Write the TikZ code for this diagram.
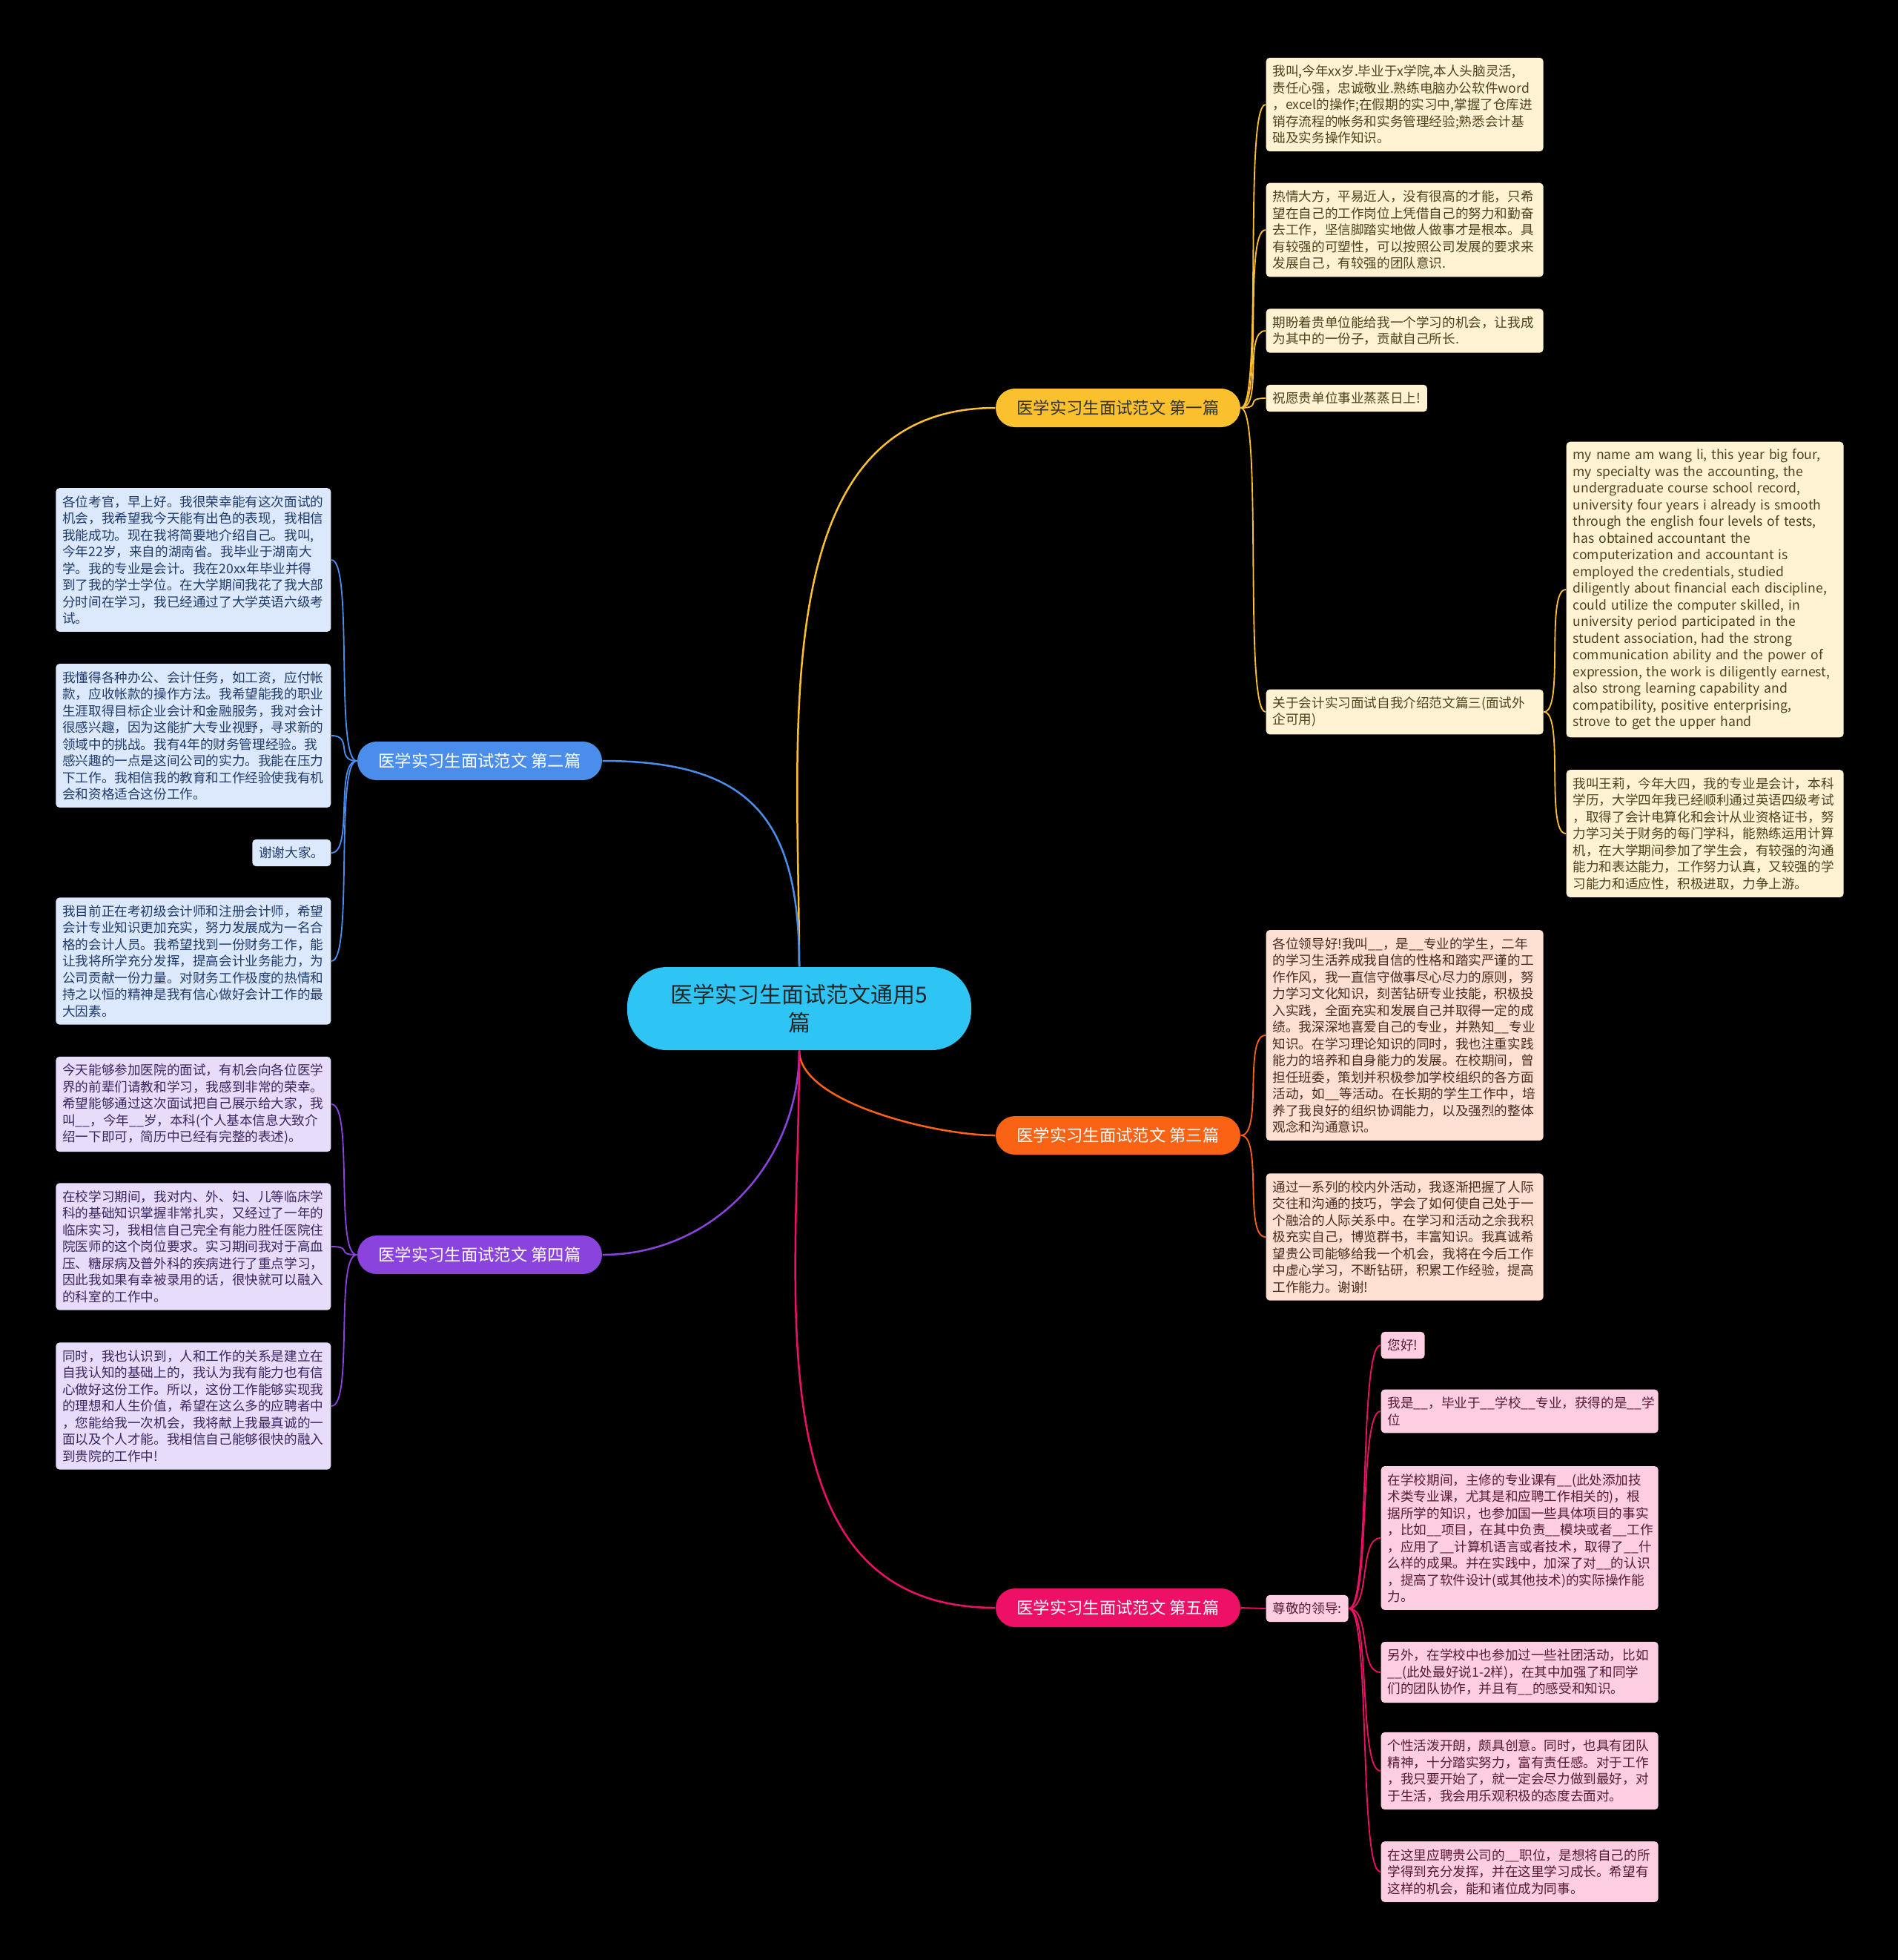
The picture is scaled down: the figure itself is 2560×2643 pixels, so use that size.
\documentclass[tikz,border=0pt]{standalone}
\usepackage{fontspec}
\setmainfont{Noto Sans CJK SC}
\usetikzlibrary{positioning}

\definecolor{rootcyan}{HTML}{2EC4F4}
\definecolor{goldbr}{HTML}{FBC02D}
\definecolor{bluebr}{HTML}{4A8DEB}
\definecolor{orangebr}{HTML}{FA6214}
\definecolor{purplebr}{HTML}{8B43DE}
\definecolor{pinkbr}{HTML}{EE1066}
\definecolor{goldleaf}{HTML}{FFF3D3}
\definecolor{blueleaf}{HTML}{DCE8FB}
\definecolor{orangeleaf}{HTML}{FDE0D1}
\definecolor{purpleleaf}{HTML}{E7DCFA}
\definecolor{pinkleaf}{HTML}{FDCDE1}
\definecolor{goldtxt}{HTML}{4E421C}
\definecolor{bluetxt}{HTML}{1F3B6C}
\definecolor{orangetxt}{HTML}{4A2C1E}
\definecolor{purpletxt}{HTML}{3C2560}
\definecolor{pinktxt}{HTML}{561A36}

\newcommand{\leaffont}{\fontsize{5.28}{6.75}\selectfont}
\newcommand{\branchfont}{\fontsize{6.7}{8}\selectfont}
\newcommand{\rootfont}{\fontsize{9}{11.6}\selectfont}

\tikzset{
  leaf/.style={rounded corners=1.5pt, inner xsep=2.7pt, inner ysep=3pt, font=\leaffont, align=left},
  wide/.style={text width=106.8pt},
  widel/.style={text width=105.9pt},
  branch/.style={rounded corners=7.8pt, minimum width=99pt, minimum height=15.6pt, inner sep=0pt, font=\branchfont},
  link/.style={line width=0.75pt},
  twig/.style={line width=0.55pt},
}

\begin{document}
\begin{tikzpicture}[x=0.3pt,y=0.3pt,yscale=-1]

\fill [black] (0,0) rectangle (2560,2643);
\useasboundingbox (0,0) rectangle (2560,2643);

% root and branches
\draw (1078,1360) node (root) [fill=rootcyan, rounded corners=16pt, minimum width=139.2pt, minimum height=33.6pt, inner sep=0pt, align=center, font=\rootfont, text=black!85] {医学实习生面试范文通用5\\篇};

\draw (1508,550) node (b1) [branch, fill=goldbr, text=black!80] {医学实习生面试范文 第一篇};
\draw (647,1026) node (b2) [branch, fill=bluebr, text=white] {医学实习生面试范文 第二篇};
\draw (1508,1531) node (b3) [branch, fill=orangebr, text=white] {医学实习生面试范文 第三篇};
\draw (647,1692) node (b4) [branch, fill=purplebr, text=white] {医学实习生面试范文 第四篇};
\draw (1508,2168) node (b5) [branch, fill=pinkbr, text=white] {医学实习生面试范文 第五篇};

\draw [link, goldbr] (root.north) .. controls +(0,-313) and +(-313,0) .. (b1.west);
\draw [link, bluebr] (root.north) .. controls +(0,-200) and +(200,0) .. (b2.east);
\draw [link, orangebr] (root.south) .. controls +(0,70) and +(-80,0) .. (b3.west);
\draw [link, purplebr] (root.south) .. controls +(0,150) and +(150,0) .. (b4.east);
\draw [link, pinkbr] (root.south) .. controls +(0,330) and +(-330,0) .. (b5.west);

% Text Node -- first
\draw (1707,141) node (l1a) [leaf, wide, anchor=west, fill=goldleaf, text=goldtxt] {我叫,今年xx岁.毕业于x学院,本人头脑灵活,\\责任心强，忠诚敬业.熟练电脑办公软件word\\，excel的操作;在假期的实习中,掌握了仓库进\\销存流程的帐务和实务管理经验;熟悉会计基\\础及实务操作知识。};
\draw (1707,310) node (l1b) [leaf, wide, anchor=west, fill=goldleaf, text=goldtxt] {热情大方，平易近人，没有很高的才能，只希\\望在自己的工作岗位上凭借自己的努力和勤奋\\去工作，坚信脚踏实地做人做事才是根本。具\\有较强的可塑性，可以按照公司发展的要求来\\发展自己，有较强的团队意识.};
\draw (1707,446) node (l1c) [leaf, wide, anchor=west, fill=goldleaf, text=goldtxt] {期盼着贵单位能给我一个学习的机会，让我成\\为其中的一份子，贡献自己所长.};
\draw (1707,537) node (l1d) [leaf, anchor=west, fill=goldleaf, text=goldtxt] {祝愿贵单位事业蒸蒸日上!};
\draw (1707,960) node (l1e) [leaf, wide, anchor=west, fill=goldleaf, text=goldtxt] {关于会计实习面试自我介绍范文篇三(面试外\\企可用)};
\draw (2112,795) node (l1f) [leaf, wide, anchor=west, fill=goldleaf, text=goldtxt] {my name am wang li, this year big four,\\my specialty was the accounting, the\\undergraduate course school record,\\university four years i already is smooth\\through the english four levels of tests,\\has obtained accountant the\\computerization and accountant is\\employed the credentials, studied\\diligently about financial each discipline,\\could utilize the computer skilled, in\\university period participated in the\\student association, had the strong\\communication ability and the power of\\expression, the work is diligently earnest,\\also strong learning capability and\\compatibility, positive enterprising,\\strove to get the upper hand};
\draw (2112,1124) node (l1g) [leaf, wide, anchor=west, fill=goldleaf, text=goldtxt] {我叫王莉，今年大四，我的专业是会计，本科\\学历，大学四年我已经顺利通过英语四级考试\\，取得了会计电算化和会计从业资格证书，努\\力学习关于财务的每门学科，能熟练运用计算\\机，在大学期间参加了学生会，有较强的沟通\\能力和表达能力，工作努力认真，又较强的学\\习能力和适应性，积极进取，力争上游。};

\foreach \n in {l1a,l1b,l1c,l1d,l1e}
  \draw [twig, goldbr] (b1.east) .. controls +(30,0) and +(-30,0) .. (\n.west);
\foreach \n in {l1f,l1g}
  \draw [twig, goldbr] (l1e.east) .. controls +(28,0) and +(-28,0) .. (\n.west);

% Text Node -- second
\draw (447,755) node (l2a) [leaf, widel, anchor=east, fill=blueleaf, text=bluetxt] {各位考官，早上好。我很荣幸能有这次面试的\\机会，我希望我今天能有出色的表现，我相信\\我能成功。现在我将简要地介绍自己。我叫,\\今年22岁，来自的湖南省。我毕业于湖南大\\学。我的专业是会计。我在20xx年毕业并得\\到了我的学士学位。在大学期间我花了我大部\\分时间在学习，我已经通过了大学英语六级考\\试。};
\draw (447,992) node (l2b) [leaf, widel, anchor=east, fill=blueleaf, text=bluetxt] {我懂得各种办公、会计任务，如工资，应付帐\\款，应收帐款的操作方法。我希望能我的职业\\生涯取得目标企业会计和金融服务，我对会计\\很感兴趣，因为这能扩大专业视野，寻求新的\\领域中的挑战。我有4年的财务管理经验。我\\感兴趣的一点是这间公司的实力。我能在压力\\下工作。我相信我的教育和工作经验使我有机\\会和资格适合这份工作。};
\draw (447,1150) node (l2c) [leaf, anchor=east, fill=blueleaf, text=bluetxt] {谢谢大家。};
\draw (447,1296) node (l2d) [leaf, widel, anchor=east, fill=blueleaf, text=bluetxt] {我目前正在考初级会计师和注册会计师，希望\\会计专业知识更加充实，努力发展成为一名合\\格的会计人员。我希望找到一份财务工作，能\\让我将所学充分发挥，提高会计业务能力，为\\公司贡献一份力量。对财务工作极度的热情和\\持之以恒的精神是我有信心做好会计工作的最\\大因素。};

\foreach \n in {l2a,l2b,l2c,l2d}
  \draw [twig, bluebr] (b2.west) .. controls +(-30,0) and +(30,0) .. (\n.east);

% Text Node -- third
\draw (1707,1396) node (l3a) [leaf, wide, anchor=west, fill=orangeleaf, text=orangetxt] {各位领导好!我叫\_\_，是\_\_专业的学生，二年\\的学习生活养成我自信的性格和踏实严谨的工\\作作风，我一直信守做事尽心尽力的原则，努\\力学习文化知识，刻苦钻研专业技能，积极投\\入实践，全面充实和发展自己并取得一定的成\\绩。我深深地喜爱自己的专业，并熟知\_\_专业\\知识。在学习理论知识的同时，我也注重实践\\能力的培养和自身能力的发展。在校期间，曾\\担任班委，策划并积极参加学校组织的各方面\\活动，如\_\_等活动。在长期的学生工作中，培\\养了我良好的组织协调能力，以及强烈的整体\\观念和沟通意识。};
\draw (1707,1668) node (l3b) [leaf, wide, anchor=west, fill=orangeleaf, text=orangetxt] {通过一系列的校内外活动，我逐渐把握了人际\\交往和沟通的技巧，学会了如何使自己处于一\\个融洽的人际关系中。在学习和活动之余我积\\极充实自己，博览群书，丰富知识。我真诚希\\望贵公司能够给我一个机会，我将在今后工作\\中虚心学习，不断钻研，积累工作经验，提高\\工作能力。谢谢!};

\foreach \n in {l3a,l3b}
  \draw [twig, orangebr] (b3.east) .. controls +(30,0) and +(-30,0) .. (\n.west);

% Text Node -- fourth
\draw (447,1489) node (l4a) [leaf, widel, anchor=east, fill=purpleleaf, text=purpletxt] {今天能够参加医院的面试，有机会向各位医学\\界的前辈们请教和学习，我感到非常的荣幸。\\希望能够通过这次面试把自己展示给大家，我\\叫\_\_，今年\_\_岁，本科(个人基本信息大致介\\绍一下即可，简历中已经有完整的表述)。};
\draw (447,1681) node (l4b) [leaf, widel, anchor=east, fill=purpleleaf, text=purpletxt] {在校学习期间，我对内、外、妇、儿等临床学\\科的基础知识掌握非常扎实，又经过了一年的\\临床实习，我相信自己完全有能力胜任医院住\\院医师的这个岗位要求。实习期间我对于高血\\压、糖尿病及普外科的疾病进行了重点学习，\\因此我如果有幸被录用的话，很快就可以融入\\的科室的工作中。};
\draw (447,1896) node (l4c) [leaf, widel, anchor=east, fill=purpleleaf, text=purpletxt] {同时，我也认识到，人和工作的关系是建立在\\自我认知的基础上的，我认为我有能力也有信\\心做好这份工作。所以，这份工作能够实现我\\的理想和人生价值，希望在这么多的应聘者中\\，您能给我一次机会，我将献上我最真诚的一\\面以及个人才能。我相信自己能够很快的融入\\到贵院的工作中!};

\foreach \n in {l4a,l4b,l4c}
  \draw [twig, purplebr] (b4.west) .. controls +(-30,0) and +(30,0) .. (\n.east);

% Text Node -- fifth
\draw (1707,2169) node (m5) [leaf, anchor=west, fill=pinkleaf, text=pinktxt] {尊敬的领导:};
\draw (1862,1814) node (l5a) [leaf, anchor=west, fill=pinkleaf, text=pinktxt] {您好!};
\draw (1862,1903) node (l5b) [leaf, wide, anchor=west, fill=pinkleaf, text=pinktxt] {我是\_\_，毕业于\_\_学校\_\_专业，获得的是\_\_学\\位};
\draw (1862,2074) node (l5c) [leaf, wide, anchor=west, fill=pinkleaf, text=pinktxt] {在学校期间，主修的专业课有\_\_(此处添加技\\术类专业课，尤其是和应聘工作相关的)，根\\据所学的知识，也参加国一些具体项目的事实\\，比如\_\_项目，在其中负责\_\_模块或者\_\_工作\\，应用了\_\_计算机语言或者技术，取得了\_\_什\\么样的成果。并在实践中，加深了对\_\_的认识\\，提高了软件设计(或其他技术)的实际操作能\\力。};
\draw (1862,2255) node (l5d) [leaf, wide, anchor=west, fill=pinkleaf, text=pinktxt] {另外，在学校中也参加过一些社团活动，比如\\\_\_(此处最好说1-2样)，在其中加强了和同学\\们的团队协作，并且有\_\_的感受和知识。};
\draw (1862,2388) node (l5e) [leaf, wide, anchor=west, fill=pinkleaf, text=pinktxt] {个性活泼开朗，颇具创意。同时，也具有团队\\精神，十分踏实努力，富有责任感。对于工作\\，我只要开始了，就一定会尽力做到最好，对\\于生活，我会用乐观积极的态度去面对。};
\draw (1862,2524) node (l5f) [leaf, wide, anchor=west, fill=pinkleaf, text=pinktxt] {在这里应聘贵公司的\_\_职位，是想将自己的所\\学得到充分发挥，并在这里学习成长。希望有\\这样的机会，能和诸位成为同事。};

\draw [twig, pinkbr] (b5.east) -- (m5.west);
\foreach \n in {l5a,l5b,l5c,l5d,l5e,l5f}
  \draw [twig, pinkbr] (m5.east) .. controls +(30,0) and +(-30,0) .. (\n.west);

\end{tikzpicture}
\end{document}
